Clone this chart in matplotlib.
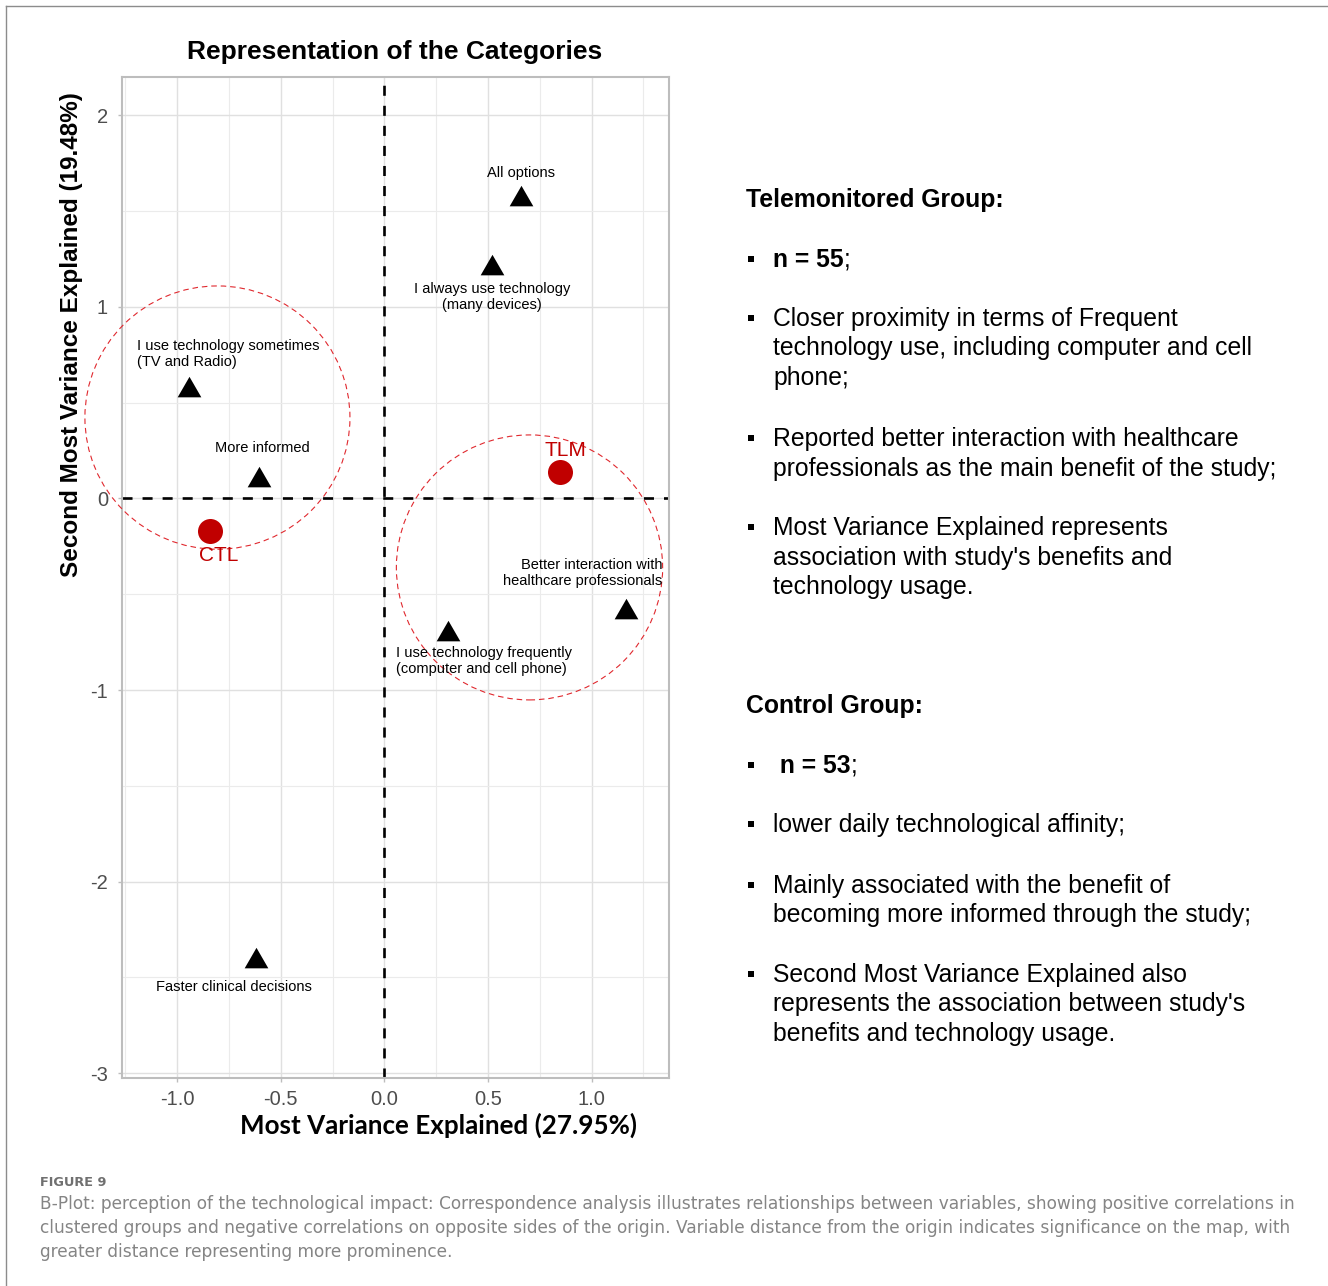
import matplotlib
matplotlib.use("Agg")
import matplotlib.pyplot as plt
from matplotlib.patches import Ellipse
from matplotlib.lines import Line2D
from matplotlib.path import Path

plt.rcParams['font.family'] = ['Liberation Sans', 'DejaVu Sans']

# ---- correspondence analysis coordinates ----
categories = [
    "All options",
    "I always use technology\n(many devices)",
    "I use technology sometimes\n(TV and Radio)",
    "More informed",
    "Better interaction with\nhealthcare professionals",
    "I use technology frequently\n(computer and cell phone)",
    "Faster clinical decisions",
]
cat_dim1 = [0.658, 0.518, -0.941, -0.606, 1.168, 0.309, -0.622]
cat_dim2 = [1.562, 1.203, 0.564, 0.096, -0.591, -0.709, -2.415]

groups = ["TLM", "CTL"]
group_dim1 = [0.847, -0.842]
group_dim2 = [0.136, -0.169]

# cluster outlines (centre x, centre y, width, height)
clusters = [(-0.806, 0.422, 1.279, 1.374), (0.700, -0.360, 1.285, 1.383)]

x_ticks = [-1.0, -0.5, 0.0, 0.5, 1.0]
x_tick_labels = ["-1.0", "-0.5", "0.0", "0.5", "1.0"]
y_ticks = [-3, -2, -1, 0, 1, 2]
y_tick_labels = ["-3", "-2", "-1", "0", "1", "2"]

# label placement (offset in points, horizontal alignment)
cat_label_style = [
    ((0, 18.7), "center"),
    ((0, -21.2), "center"),
    ((-37.7, 26.3), "left"),
    ((2.7, 23.2), "center"),
    ((25.6, 27.9), "right"),
    ((-37.7, -19.2), "left"),
    ((-15.6, -18.3), "center"),
]
group_label_offsets = [(4, 15.6), (6.4, -18.0)]

W, H = 1328, 1286
fig = plt.figure(figsize=(W / 100, H / 100), dpi=100)
fig.patch.set_facecolor("white")


def fx(px):
    return px / W


def fy(py):
    return 1 - py / H


ax = fig.add_axes([fx(121.9), fy(1077.7), fx(668.75 - 121.9), (1077.7 - 76.7) / H])
ax.set_xlim(-1.267, 1.372)
ax.set_ylim(-3.023, 2.201)

ax.set_xticks(x_ticks)
ax.set_xticklabels(x_tick_labels)
ax.set_yticks(y_ticks)
ax.set_yticklabels(y_tick_labels)
ax.set_xticks([-1.25, -0.75, -0.25, 0.25, 0.75, 1.25], minor=True)
ax.set_yticks([-2.5, -1.5, -0.5, 0.5, 1.5], minor=True)
ax.tick_params(axis="x", which="major", pad=5.5)
ax.tick_params(axis="y", which="major", pad=7)
ax.tick_params(axis="both", which="major", length=3, width=1, color="#BDBDBD",
               labelcolor="#4D4D4D", labelsize=14.5)
ax.tick_params(axis="both", which="minor", length=0)
ax.grid(True, which="major", color="#E0E0E0", lw=1.0, zorder=0)
ax.grid(True, which="minor", color="#EBEBEB", lw=0.8, zorder=0)
ax.set_axisbelow(True)
for sp in ax.spines.values():
    sp.set_color("#BDBDBD")
    sp.set_linewidth(1.5)

# reference axes through the origin
ax.axvline(0, color="black", lw=1.9, linestyle=(0, (3.8, 3.8)), zorder=2)
ax.axhline(0, color="black", lw=1.9, linestyle=(0, (3.8, 3.8)), zorder=2)

# cluster outlines
for cx, cy, w, h in clusters:
    ax.add_patch(Ellipse((cx, cy), w, h, fill=False, edgecolor="#E0282E",
                         lw=0.8, linestyle=(0, (5, 3.5)), zorder=3, clip_on=False))

# equilateral triangle marker centred on its centroid
tri = Path([(0, 1), (-0.866, -0.5), (0.866, -0.5), (0, 1)],
           [Path.MOVETO, Path.LINETO, Path.LINETO, Path.CLOSEPOLY])
ax.plot(cat_dim1, cat_dim2, linestyle="none", marker=tri, markersize=19.7,
        color="black", markeredgewidth=0, zorder=4)
for name, x, y, ((dx, dy), ha) in zip(categories, cat_dim1, cat_dim2, cat_label_style):
    ax.annotate(name, xy=(x, y), xytext=(dx, dy), textcoords="offset points",
                ha=ha, va="center", multialignment=ha, fontsize=10.5,
                color="black", zorder=5)

ax.plot(group_dim1, group_dim2, linestyle="none", marker="o", markersize=18,
        color="#C00000", markeredgewidth=0, zorder=4)
for name, x, y, (dx, dy) in zip(groups, group_dim1, group_dim2, group_label_offsets):
    ax.annotate(name, xy=(x, y), xytext=(dx, dy), textcoords="offset points",
                ha="center", va="center", fontsize=15, color="#C00000", zorder=5)

# titles
fig.text(fx(395), fy(59.3), "Representation of the Categories", ha="center",
         va="baseline", fontsize=19, fontweight="bold")
fig.text(fx(72), fy(335), "Second Most Variance Explained (19.48%)", rotation=90,
         ha="center", va="center", fontsize=17.5, fontweight="bold")
fig.text(fx(438.5), fy(1133.3), "Most Variance Explained (27.95%)", ha="center",
         va="baseline", fontsize=18.7, fontweight="bold", family=["Lato", "DejaVu Sans"])

# side notes
BODY = 17.8
X_HEAD, X_BULLET, X_TEXT = 746, 750.5, 773


def bullet(y):
    fig.add_artist(Line2D([fx(X_BULLET)], [fy(y - 8.2)], marker="s", markersize=5,
                          color="black", markeredgewidth=0, transform=fig.transFigure))


def line(y, s, weight="normal", x=X_TEXT):
    return fig.text(fx(x), fy(y), s, ha="left", va="baseline", fontsize=BODY,
                    fontweight=weight)


line(207, "Telemonitored Group:", "bold", X_HEAD)
notes_tlm = [
    (325.7, ["Closer proximity in terms of Frequent",
             "technology use, including computer and cell",
             "phone;"]),
    (446.0, ["Reported better interaction with healthcare",
             "professionals as the main benefit of the study;"]),
    (535.0, ["Most Variance Explained represents",
             "association with study's benefits and",
             "technology usage."]),
]
line(713.3, "Control Group:", "bold", X_HEAD)
notes_ctl = [
    (831.7, ["lower daily technological affinity;"]),
    (892.7, ["Mainly associated with the benefit of",
             "becoming more informed through the study;"]),
    (981.7, ["Second Most Variance Explained also",
             "represents the association between study's",
             "benefits and technology usage."]),
]
LEAD = 29.7
for y0, rows in notes_tlm + notes_ctl:
    bullet(y0)
    for i, r in enumerate(rows):
        line(y0 + i * LEAD, r)

# sample size lines: bold count followed by a regular semicolon
fig.canvas.draw()
for y0, s in [(266.7, "n = 55"), (772.7, " n = 53")]:
    bullet(y0)
    t = line(y0, s, "bold")
    bb = t.get_window_extent(renderer=fig.canvas.get_renderer())
    fig.text(bb.x1 / W, fy(y0), ";", ha="left", va="baseline", fontsize=BODY)

# caption
CAP = ["DejaVu Sans"]
fig.text(fx(40), fy(1185.7), "FIGURE 9", ha="left", va="baseline", fontsize=9.3,
         fontweight="bold", color="#707070", family=CAP)
caption = [
    "B-Plot: perception of the technological impact: Correspondence analysis illustrates relationships between variables, showing positive correlations in",
    "clustered groups and negative correlations on opposite sides of the origin. Variable distance from the origin indicates significance on the map, with",
    "greater distance representing more prominence.",
]
for i, c in enumerate(caption):
    fig.text(fx(40), fy(1209 + i * 24.2), c, ha="left", va="baseline", fontsize=12.25,
             color="#858585", family=CAP)

# frame around the figure panel
fig.add_artist(Line2D([fx(6), 1], [fy(5.5), fy(5.5)], color="#8C8C8C", lw=1,
                      transform=fig.transFigure))
fig.add_artist(Line2D([fx(6), fx(6)], [fy(5.5), 0], color="#8C8C8C", lw=1,
                      transform=fig.transFigure))

fig.savefig("out.png", dpi=100)
